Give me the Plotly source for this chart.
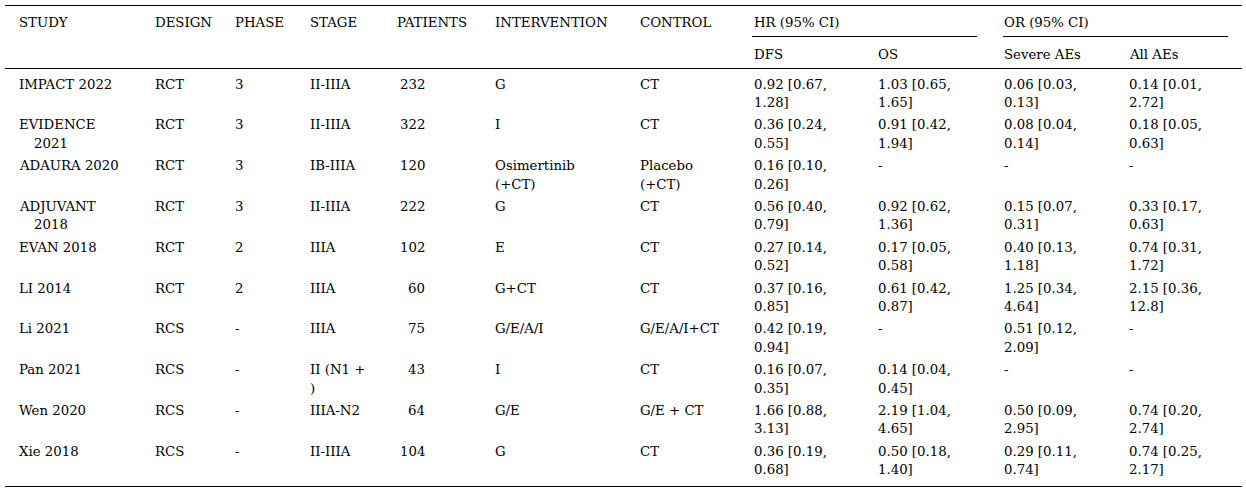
import textwrap
import plotly.graph_objects as go

# ---------------- data ----------------
studies = ["IMPACT 2022", "EVIDENCE 2021", "ADAURA 2020", "ADJUVANT 2018", "EVAN 2018",
           "LI 2014", "Li 2021", "Pan 2021", "Wen 2020", "Xie 2018"]
designs = ["RCT", "RCT", "RCT", "RCT", "RCT", "RCT", "RCS", "RCS", "RCS", "RCS"]
phases = ["3", "3", "3", "3", "2", "2", "-", "-", "-", "-"]
stages = ["II-IIIA", "II-IIIA", "IB-IIIA", "II-IIIA", "IIIA", "IIIA", "IIIA", "II (N1 + )",
          "IIIA-N2", "II-IIIA"]
patients = [232, 322, 120, 222, 102, 60, 75, 43, 64, 104]
interventions = ["G", "I", "Osimertinib (+CT)", "G", "E", "G+CT", "G/E/A/I", "I", "G/E", "G"]
controls = ["CT", "CT", "Placebo (+CT)", "CT", "CT", "CT", "G/E/A/I+CT", "CT", "G/E + CT", "CT"]
hr_dfs = ["0.92 [0.67, 1.28]", "0.36 [0.24, 0.55]", "0.16 [0.10, 0.26]", "0.56 [0.40, 0.79]",
          "0.27 [0.14, 0.52]", "0.37 [0.16, 0.85]", "0.42 [0.19, 0.94]", "0.16 [0.07, 0.35]",
          "1.66 [0.88, 3.13]", "0.36 [0.19, 0.68]"]
hr_os = ["1.03 [0.65, 1.65]", "0.91 [0.42, 1.94]", "-", "0.92 [0.62, 1.36]",
         "0.17 [0.05, 0.58]", "0.61 [0.42, 0.87]", "-", "0.14 [0.04, 0.45]",
         "2.19 [1.04, 4.65]", "0.50 [0.18, 1.40]"]
or_severe = ["0.06 [0.03, 0.13]", "0.08 [0.04, 0.14]", "-", "0.15 [0.07, 0.31]",
             "0.40 [0.13, 1.18]", "1.25 [0.34, 4.64]", "0.51 [0.12, 2.09]", "-",
             "0.50 [0.09, 2.95]", "0.29 [0.11, 0.74]"]
or_all = ["0.14 [0.01, 2.72]", "0.18 [0.05, 0.63]", "-", "0.33 [0.17, 0.63]",
          "0.74 [0.31, 1.72]", "2.15 [0.36, 12.8]", "-", "-",
          "0.74 [0.20, 2.74]", "0.74 [0.25, 2.17]"]

header_top = ["STUDY", "DESIGN", "PHASE", "STAGE", "PATIENTS", "INTERVENTION", "CONTROL"]
group_headers = ["HR (95% CI)", "OR (95% CI)"]
sub_headers = ["DFS", "OS", "Severe AEs", "All AEs"]

# ---------------- layout constants ----------------
W, H = 1246, 493
FONT = dict(family="DejaVu Serif, Liberation Serif, serif", size=13.3, color="#000000")
col_x = [19, 155, 235, 310, 397, 495, 640, 754, 878, 1004, 1129]
wrap_w = [12, 8, 8, 8, 8, 12, 12, 12, 12, 12, 12]
patients_right = 425
row0, row_step, line_step = 84, 40.8, 18.5
hdr_y1, hdr_y2 = 22, 54

annotations = []


def add_text(x, y, text, anchor="left"):
    annotations.append(dict(x=x, y=y, xref="x", yref="y", text=text, showarrow=False,
                            xanchor=anchor, yanchor="middle", font=FONT, align=anchor,
                            borderpad=0, borderwidth=0))


# headers
for i, h in enumerate(header_top):
    add_text(col_x[i], hdr_y1, h)
add_text(col_x[7], hdr_y1, group_headers[0])
add_text(col_x[9], hdr_y1, group_headers[1])
for j, h in enumerate(sub_headers):
    add_text(col_x[7 + j], hdr_y2, h)

# body
columns = [studies, designs, phases, stages, [str(p) for p in patients], interventions,
           controls, hr_dfs, hr_os, or_severe, or_all]
for r in range(len(studies)):
    y = row0 + r * row_step
    for c, col in enumerate(columns):
        val = col[r]
        if c == 4:
            add_text(patients_right, y, val, anchor="right")
            continue
        lines = textwrap.wrap(val, width=wrap_w[c]) or [val]
        for k, ln in enumerate(lines):
            x = col_x[c] + (15 if (c == 0 and k > 0) else 0)
            add_text(x, y + k * line_step, ln)

# rules
shapes = []


def hline(x0, x1, y, w=1.2):
    shapes.append(dict(type="line", xref="x", yref="y", x0=x0, x1=x1, y0=y, y1=y,
                       line=dict(color="#000000", width=w)))


hline(5, 1242, 5.5)
hline(752, 977, 36.5)
hline(1003, 1228, 36.5)
hline(5, 1242, 68.5)
hline(5, 1242, 486.5)

fig = go.Figure()
fig.add_trace(go.Scatter(x=[0, W], y=[0, H], mode="markers", marker=dict(opacity=0),
                         hoverinfo="skip", showlegend=False))
fig.update_layout(
    width=W, height=H, margin=dict(l=0, r=0, t=0, b=0),
    paper_bgcolor="white", plot_bgcolor="white",
    xaxis=dict(range=[0, W], visible=False, fixedrange=True),
    yaxis=dict(range=[H, 0], visible=False, fixedrange=True),
    annotations=annotations, shapes=shapes, showlegend=False,
)
fig.write_html("out.html", config={"displayModeBar": False},
               post_script="document.body.style.margin='0';document.body.style.overflow='hidden';")
